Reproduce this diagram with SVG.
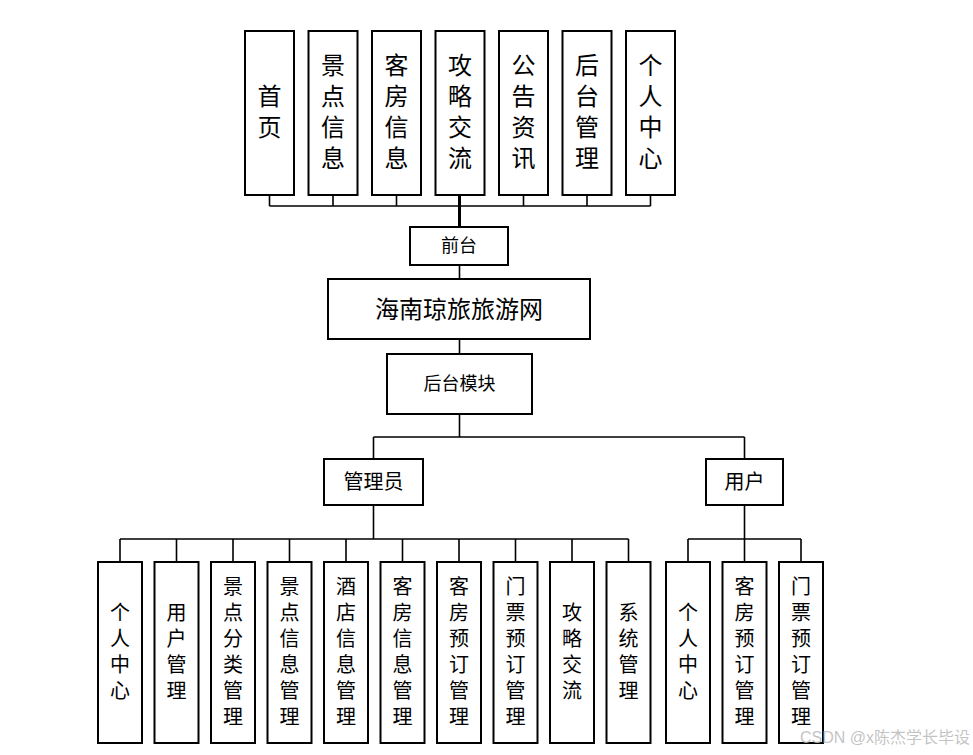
<svg xmlns="http://www.w3.org/2000/svg" width="973" height="755" viewBox="0 0 973 755">
<style>
rect{fill:#fff;stroke:#000;stroke-width:2}
text{font-family:"Liberation Sans","Noto Sans CJK SC",sans-serif;fill:#000;text-anchor:middle;dominant-baseline:central}
.t{font-size:24px}
.b{font-size:20px}
.m{font-size:18px}
#connectors path{fill:none;stroke:#000;stroke-width:1.6}
</style>
<rect x="0" y="0" width="973" height="755" style="fill:#fff;stroke:none"/>
<g id="connectors">
<path d="M269.5 195V206M333 195V206M396.5 195V206M523.5 195V206M587 195V206M650.5 195V206M269.5 206H650.5"/>
<path d="M459.5 195V227" style="stroke-width:3"/>
<path d="M459.5 265V279M459.5 339V354M459.5 414V437M373.5 437H744.5M373.5 437V459M744.5 437V459"/>
<path d="M373.5 505V539M120 539H628.5M120 539V562M176.5 539V562M233 539V562M289.5 539V562M346 539V562M402.5 539V562M459 539V562M515.5 539V562M572 539V562M628.5 539V562"/>
<path d="M744.5 505V539M688 539H801M688 539V562M744.5 539V562M801 539V562"/>
</g>
<g id="n-home"><rect x="245" y="31" width="49" height="164"/><text class="t" x="269.5" y="96">首</text><text class="t" x="269.5" y="127">页</text></g>
<g id="n-scenic"><rect x="308.5" y="31" width="49" height="164"/><text class="t" x="333" y="65.5">景</text><text class="t" x="333" y="96.5">点</text><text class="t" x="333" y="127.5">信</text><text class="t" x="333" y="158.5">息</text></g>
<g id="n-room"><rect x="372" y="31" width="49" height="164"/><text class="t" x="396.5" y="65.5">客</text><text class="t" x="396.5" y="96.5">房</text><text class="t" x="396.5" y="127.5">信</text><text class="t" x="396.5" y="158.5">息</text></g>
<g id="n-guide"><rect x="435.5" y="31" width="49" height="164"/><text class="t" x="460" y="65.5">攻</text><text class="t" x="460" y="96.5">略</text><text class="t" x="460" y="127.5">交</text><text class="t" x="460" y="158.5">流</text></g>
<g id="n-notice"><rect x="499" y="31" width="49" height="164"/><text class="t" x="523.5" y="65.5">公</text><text class="t" x="523.5" y="96.5">告</text><text class="t" x="523.5" y="127.5">资</text><text class="t" x="523.5" y="158.5">讯</text></g>
<g id="n-admin-entry"><rect x="562.5" y="31" width="49" height="164"/><text class="t" x="587" y="65.5">后</text><text class="t" x="587" y="96.5">台</text><text class="t" x="587" y="127.5">管</text><text class="t" x="587" y="158.5">理</text></g>
<g id="n-personal"><rect x="626" y="31" width="49" height="164"/><text class="t" x="650.5" y="65.5">个</text><text class="t" x="650.5" y="96.5">人</text><text class="t" x="650.5" y="127.5">中</text><text class="t" x="650.5" y="158.5">心</text></g>
<g id="n-front"><rect x="410" y="227" width="98" height="38"/><text class="m" x="459" y="246">前台</text></g>
<g id="n-root"><rect x="328" y="279" width="262" height="60"/><text class="t" x="459" y="309">海南琼旅旅游网</text></g>
<g id="n-back"><rect x="387" y="354" width="145" height="60"/><text class="m" x="459.5" y="384">后台模块</text></g>
<g id="n-admin"><rect x="324" y="459" width="99" height="46"/><text class="b" x="373.5" y="482">管理员</text></g>
<g id="n-user"><rect x="706" y="459" width="77" height="46"/><text class="b" x="744.5" y="482">用户</text></g>
<g id="a1"><rect x="98" y="562" width="44" height="181"/><text class="b" x="120" y="613">个</text><text class="b" x="120" y="639">人</text><text class="b" x="120" y="665">中</text><text class="b" x="120" y="691">心</text></g>
<g id="a2"><rect x="154.5" y="562" width="44" height="181"/><text class="b" x="176.5" y="613">用</text><text class="b" x="176.5" y="639">户</text><text class="b" x="176.5" y="665">管</text><text class="b" x="176.5" y="691">理</text></g>
<g id="a3"><rect x="211" y="562" width="44" height="181"/><text class="b" x="233" y="587">景</text><text class="b" x="233" y="613">点</text><text class="b" x="233" y="639">分</text><text class="b" x="233" y="665">类</text><text class="b" x="233" y="691">管</text><text class="b" x="233" y="717">理</text></g>
<g id="a4"><rect x="267.5" y="562" width="44" height="181"/><text class="b" x="289.5" y="587">景</text><text class="b" x="289.5" y="613">点</text><text class="b" x="289.5" y="639">信</text><text class="b" x="289.5" y="665">息</text><text class="b" x="289.5" y="691">管</text><text class="b" x="289.5" y="717">理</text></g>
<g id="a5"><rect x="324" y="562" width="44" height="181"/><text class="b" x="346" y="587">酒</text><text class="b" x="346" y="613">店</text><text class="b" x="346" y="639">信</text><text class="b" x="346" y="665">息</text><text class="b" x="346" y="691">管</text><text class="b" x="346" y="717">理</text></g>
<g id="a6"><rect x="380.5" y="562" width="44" height="181"/><text class="b" x="402.5" y="587">客</text><text class="b" x="402.5" y="613">房</text><text class="b" x="402.5" y="639">信</text><text class="b" x="402.5" y="665">息</text><text class="b" x="402.5" y="691">管</text><text class="b" x="402.5" y="717">理</text></g>
<g id="a7"><rect x="437" y="562" width="44" height="181"/><text class="b" x="459" y="587">客</text><text class="b" x="459" y="613">房</text><text class="b" x="459" y="639">预</text><text class="b" x="459" y="665">订</text><text class="b" x="459" y="691">管</text><text class="b" x="459" y="717">理</text></g>
<g id="a8"><rect x="493.5" y="562" width="44" height="181"/><text class="b" x="515.5" y="587">门</text><text class="b" x="515.5" y="613">票</text><text class="b" x="515.5" y="639">预</text><text class="b" x="515.5" y="665">订</text><text class="b" x="515.5" y="691">管</text><text class="b" x="515.5" y="717">理</text></g>
<g id="a9"><rect x="550" y="562" width="44" height="181"/><text class="b" x="572" y="613">攻</text><text class="b" x="572" y="639">略</text><text class="b" x="572" y="665">交</text><text class="b" x="572" y="691">流</text></g>
<g id="a10"><rect x="606.5" y="562" width="44" height="181"/><text class="b" x="628.5" y="613">系</text><text class="b" x="628.5" y="639">统</text><text class="b" x="628.5" y="665">管</text><text class="b" x="628.5" y="691">理</text></g>
<g id="u1"><rect x="666" y="562" width="44" height="181"/><text class="b" x="688" y="613">个</text><text class="b" x="688" y="639">人</text><text class="b" x="688" y="665">中</text><text class="b" x="688" y="691">心</text></g>
<g id="u2"><rect x="722.5" y="562" width="44" height="181"/><text class="b" x="744.5" y="587">客</text><text class="b" x="744.5" y="613">房</text><text class="b" x="744.5" y="639">预</text><text class="b" x="744.5" y="665">订</text><text class="b" x="744.5" y="691">管</text><text class="b" x="744.5" y="717">理</text></g>
<g id="u3"><rect x="779" y="562" width="44" height="181"/><text class="b" x="801" y="587">门</text><text class="b" x="801" y="613">票</text><text class="b" x="801" y="639">预</text><text class="b" x="801" y="665">订</text><text class="b" x="801" y="691">管</text><text class="b" x="801" y="717">理</text></g>
<text x="970" y="737" style="font-size:16px;text-anchor:end;fill:#b8b8b8;fill-opacity:0.85">CSDN @x陈杰学长毕设</text>
</svg>
